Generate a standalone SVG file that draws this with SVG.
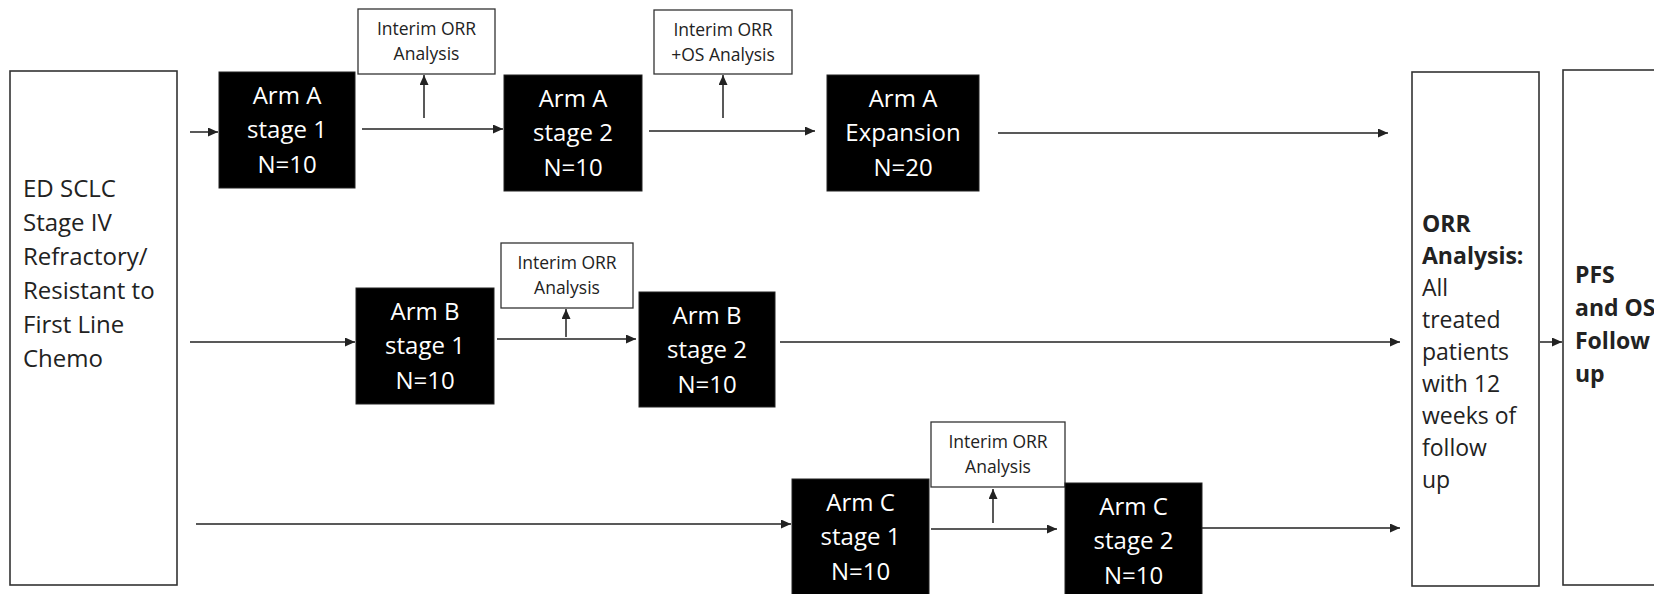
<svg xmlns="http://www.w3.org/2000/svg" width="1654" height="594" viewBox="0 0 1654 594">
<style>
.frame{fill:#fff;stroke:#333;stroke-width:1.6}
.note{fill:#fff;stroke:#333;stroke-width:1.3}
.arm{fill:#000;stroke:#222;stroke-width:1}
.wt{fill:#fff;font-family:"Open Sans","Liberation Sans",sans-serif;font-size:24px;text-anchor:middle}
.nt{fill:#222;font-family:"Open Sans","Liberation Sans",sans-serif;font-size:17.5px;text-anchor:middle}
.bt{fill:#222;font-family:"Open Sans","Liberation Sans",sans-serif;font-size:23px}
.lt{fill:#222;font-family:"Open Sans","Liberation Sans",sans-serif;font-size:24px}
.b{font-weight:bold}
.ln{stroke:#222;stroke-width:1.5;fill:none;marker-end:url(#ah)}
</style>
<defs>
<marker id="ah" markerUnits="userSpaceOnUse" markerWidth="10" markerHeight="9" refX="10" refY="4.5" orient="auto">
<path d="M0,0 L10,4.5 L0,9 z" fill="#222"/>
</marker>
</defs>
<rect width="1654" height="594" fill="#fff"/>
<g id="connectors">
<line class="ln" x1="190" y1="132" x2="218" y2="132"/>
<line class="ln" x1="362" y1="129" x2="503" y2="129"/>
<line class="ln" x1="424" y1="118" x2="424" y2="75"/>
<line class="ln" x1="649" y1="131" x2="815" y2="131"/>
<line class="ln" x1="723" y1="118" x2="723" y2="75"/>
<line class="ln" x1="998" y1="133" x2="1388" y2="133"/>
<line class="ln" x1="190" y1="342" x2="355" y2="342"/>
<line class="ln" x1="497" y1="339" x2="636" y2="339"/>
<line class="ln" x1="566" y1="337" x2="566" y2="309"/>
<line class="ln" x1="780" y1="342" x2="1400" y2="342"/>
<line class="ln" x1="196" y1="524" x2="791" y2="524"/>
<line class="ln" x1="931" y1="529" x2="1057" y2="529"/>
<line class="ln" x1="993" y1="523" x2="993" y2="489"/>
<line class="ln" x1="1202" y1="528" x2="1400" y2="528"/>
<line class="ln" x1="1540" y1="342" x2="1562" y2="342"/>
</g>
<g id="population">
<rect class="frame" x="10" y="71" width="167" height="514"/>
<text class="lt"><tspan x="23" y="197">ED SCLC</tspan><tspan x="23" y="231">Stage IV</tspan><tspan x="23" y="265">Refractory/</tspan><tspan x="23" y="299">Resistant to</tspan><tspan x="23" y="333">First Line</tspan><tspan x="23" y="367">Chemo</tspan></text>
</g>
<g id="armA1">
<rect class="arm" x="219" y="72" width="136" height="116"/>
<text class="wt"><tspan x="287" y="104">Arm A</tspan><tspan x="287" y="138">stage 1</tspan><tspan x="287" y="173">N=10</tspan></text>
</g>
<g id="interimA1">
<rect class="note" x="358" y="9" width="137" height="65"/>
<text class="nt"><tspan x="426.5" y="35">Interim ORR</tspan><tspan x="426.5" y="60">Analysis</tspan></text>
</g>
<g id="armA2">
<rect class="arm" x="504" y="75" width="138" height="116"/>
<text class="wt"><tspan x="573" y="107">Arm A</tspan><tspan x="573" y="141">stage 2</tspan><tspan x="573" y="176">N=10</tspan></text>
</g>
<g id="interimA2">
<rect class="note" x="654" y="10" width="138" height="64"/>
<text class="nt"><tspan x="723" y="36">Interim ORR</tspan><tspan x="723" y="61">+OS Analysis</tspan></text>
</g>
<g id="armAexp">
<rect class="arm" x="827" y="75" width="152" height="116"/>
<text class="wt"><tspan x="903" y="107">Arm A</tspan><tspan x="903" y="141">Expansion</tspan><tspan x="903" y="176">N=20</tspan></text>
</g>
<g id="armB1">
<rect class="arm" x="356" y="288" width="138" height="116"/>
<text class="wt"><tspan x="425" y="320">Arm B</tspan><tspan x="425" y="354">stage 1</tspan><tspan x="425" y="389">N=10</tspan></text>
</g>
<g id="interimB">
<rect class="note" x="501" y="243" width="132" height="65"/>
<text class="nt"><tspan x="567" y="269">Interim ORR</tspan><tspan x="567" y="294">Analysis</tspan></text>
</g>
<g id="armB2">
<rect class="arm" x="639" y="292" width="136" height="115"/>
<text class="wt"><tspan x="707" y="324">Arm B</tspan><tspan x="707" y="358">stage 2</tspan><tspan x="707" y="393">N=10</tspan></text>
</g>
<g id="armC1">
<rect class="arm" x="792" y="479" width="137" height="116"/>
<text class="wt"><tspan x="860.5" y="511">Arm C</tspan><tspan x="860.5" y="545">stage 1</tspan><tspan x="860.5" y="580">N=10</tspan></text>
</g>
<g id="interimC">
<rect class="note" x="931" y="422" width="134" height="65"/>
<text class="nt"><tspan x="998" y="448">Interim ORR</tspan><tspan x="998" y="473">Analysis</tspan></text>
</g>
<g id="armC2">
<rect class="arm" x="1065" y="483" width="137" height="116"/>
<text class="wt"><tspan x="1133.5" y="515">Arm C</tspan><tspan x="1133.5" y="549">stage 2</tspan><tspan x="1133.5" y="584">N=10</tspan></text>
</g>
<g id="orr">
<rect class="frame" x="1412" y="72" width="127" height="514"/>
<text class="bt"><tspan class="b" x="1422" y="232">ORR</tspan><tspan class="b" x="1422" y="264">Analysis:</tspan><tspan x="1422" y="296">All</tspan><tspan x="1422" y="328">treated</tspan><tspan x="1422" y="360">patients</tspan><tspan x="1422" y="392">with 12</tspan><tspan x="1422" y="424">weeks of</tspan><tspan x="1422" y="456">follow</tspan><tspan x="1422" y="488">up</tspan></text>
</g>
<g id="pfs">
<rect class="frame" x="1563" y="70" width="130" height="515"/>
<text class="bt b"><tspan x="1575" y="283">PFS</tspan><tspan x="1575" y="316">and OS</tspan><tspan x="1575" y="349">Follow</tspan><tspan x="1575" y="382">up</tspan></text>
</g>
</svg>
